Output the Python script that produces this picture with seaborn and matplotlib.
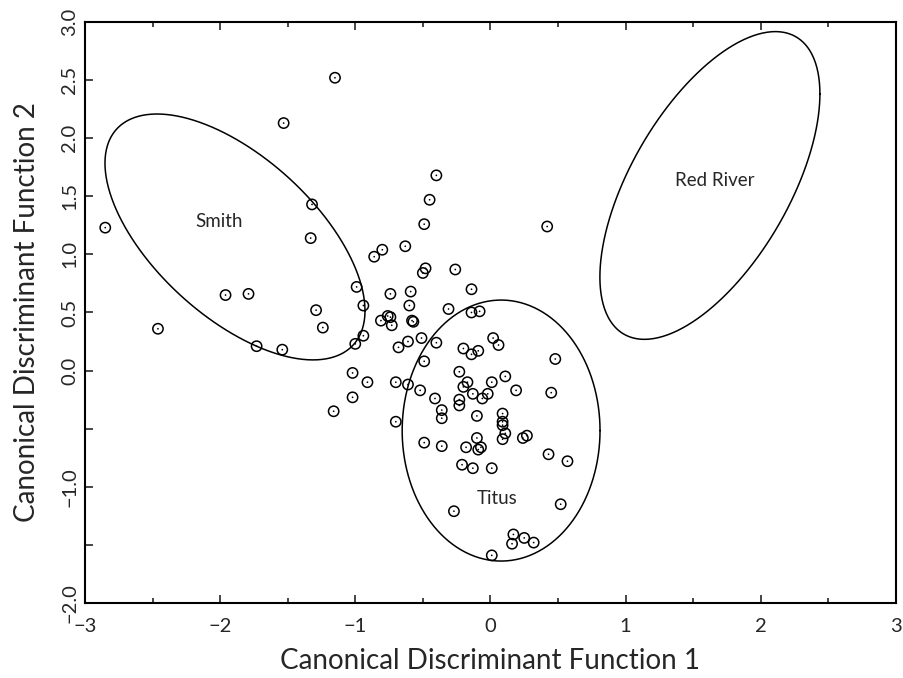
import matplotlib
matplotlib.use("Agg")
import matplotlib.pyplot as plt
import matplotlib.transforms as mtransforms
import numpy as np
import pandas as pd
import seaborn as sns

# canonical discriminant scores
cdf1 = [-1.15, -1.53, -2.85, -1.32, -1.33, -0.86, -0.80, -0.99, -1.96, -1.79,
        -0.74, -0.94, -1.29, -2.46, -1.24, -0.81, -0.76, -0.74, -0.73, -0.94,
        -1.73, -1.54, -1.00, -0.68, -1.02, -0.91, -0.70, -1.02,
        -0.40, -0.45, -0.49, 0.42, -0.63, -0.48, -0.50, -0.26, -0.14, -0.59,
        -0.60, -0.31, -0.14, -0.08, -0.58, -0.57, -0.51, -0.61, -0.40, 0.02,
        0.06, -0.20, -0.09, -0.14, 0.48, -0.49, -0.61, -0.52, -0.23, -0.17,
        -0.20, 0.01, 0.11, 0.19, 0.45, -0.13, -0.06, -0.02, -0.41, -0.23,
        -0.23, -1.16, -0.36, -0.36, -0.10, 0.09, 0.09, 0.09, -0.70,
        0.11, 0.09, 0.24, 0.27, -0.49, -0.36, -0.18, -0.10, -0.07, -0.09,
        0.43, 0.57, -0.21, -0.13, 0.01, 0.52, -0.27, 0.17, 0.16, 0.25,
        0.32, 0.01]
cdf2 = [2.52, 2.13, 1.23, 1.43, 1.14, 0.98, 1.04, 0.72, 0.65, 0.66,
        0.66, 0.56, 0.52, 0.36, 0.37, 0.43, 0.47, 0.46, 0.39, 0.30,
        0.21, 0.18, 0.23, 0.20, -0.02, -0.10, -0.10, -0.23,
        1.68, 1.47, 1.26, 1.24, 1.07, 0.88, 0.84, 0.87, 0.70, 0.68,
        0.56, 0.53, 0.50, 0.51, 0.43, 0.42, 0.28, 0.25, 0.24, 0.28,
        0.22, 0.19, 0.17, 0.14, 0.10, 0.08, -0.12, -0.17, -0.01, -0.10,
        -0.14, -0.10, -0.05, -0.17, -0.19, -0.20, -0.24, -0.20, -0.24, -0.25,
        -0.30, -0.35, -0.34, -0.41, -0.39, -0.37, -0.44, -0.47, -0.44,
        -0.54, -0.59, -0.58, -0.56, -0.62, -0.65, -0.66, -0.58, -0.66, -0.68,
        -0.72, -0.78, -0.81, -0.84, -0.84, -1.15, -1.21, -1.41, -1.49, -1.44,
        -1.48, -1.59]

# group ellipses: centre, half ranges and tilt (cos of phase shift)
groups = ["Smith", "Red River", "Titus"]
ell_cx = [-1.89, 1.624, 0.079]
ell_cy = [1.15, 1.593, -0.516]
ell_rx = [0.962, 0.814, 0.732]
ell_ry = [1.058, 1.324, 1.123]
ell_r = [-0.60, 0.595, 0.0]
label_x = [-2.01, 1.66, 0.05]
label_y = [1.28, 1.64, -1.10]

xticks = [-3, -2, -1, 0, 1, 2, 3]
xtick_labels = ["\u22123", "\u22122", "\u22121", "0", "1", "2", "3"]
yticks = [-2.0, -1.5, -1.0, -0.5, 0.0, 0.5, 1.0, 1.5, 2.0, 2.5, 3.0]
ytick_labels = ["\u22122.0", "", "\u22121.0", "", "0.0", "0.5", "1.0", "1.5", "2.0", "2.5", "3.0"]

sns.set_style("ticks")
plt.rcParams['font.family'] = ['Lato', 'DejaVu Sans']

df = pd.DataFrame({"f1": cdf1, "f2": cdf2})

fig = plt.figure(figsize=(9.04, 6.78), dpi=100)
ax = fig.add_axes([0.094, 0.1106, 0.897, 0.857])

sns.scatterplot(data=df, x="f1", y="f2", ax=ax, marker="o", s=55,
                facecolor="none", edgecolor="black", linewidth=1.1, zorder=3)
sns.scatterplot(data=df, x="f1", y="f2", ax=ax, marker="o", s=1.5,
                color="black", edgecolor="none", zorder=4)

t = np.linspace(0, 2 * np.pi, 400)
for i, g in enumerate(groups):
    phi = np.arccos(ell_r[i])
    ex = ell_cx[i] + ell_rx[i] * np.cos(t)
    ey = ell_cy[i] + ell_ry[i] * np.cos(t - phi)
    ax.plot(ex, ey, color="black", lw=1.1, zorder=2)
    ax.text(label_x[i], label_y[i], g, fontsize=13.5, ha="center", va="center")

ax.set_xlim(-3, 3)
ax.set_ylim(-2, 3)
ax.set_xticks(xticks)
ax.set_xticklabels(xtick_labels, fontsize=14.5)
ax.set_xticks(np.arange(-2.5, 3, 1.0), minor=True)
ax.set_yticks(yticks)
ax.set_yticklabels(ytick_labels, fontsize=14.5, rotation=90, va="center")

# rotated labels sit a little above their ticks in the original
shift = mtransforms.ScaledTranslation(0, 4 / 100, fig.dpi_scale_trans)
for lab in ax.get_yticklabels():
    lab.set_transform(lab.get_transform() + shift)

ax.tick_params(axis="x", which="major", direction="in", length=6, width=1.2,
               pad=11, top=True)
ax.tick_params(axis="x", which="minor", direction="in", length=3.6, width=1.2,
               top=True)
ax.tick_params(axis="y", which="major", direction="in", length=6, width=1.2,
               pad=5)

for sp in ax.spines.values():
    sp.set_linewidth(1.5)
    sp.set_color("black")

ax.set_xlabel("Canonical Discriminant Function 1", fontsize=20, labelpad=9)
ax.set_ylabel("Canonical Discriminant Function 2", fontsize=20, labelpad=15)

plt.savefig("out.png", dpi=100)
